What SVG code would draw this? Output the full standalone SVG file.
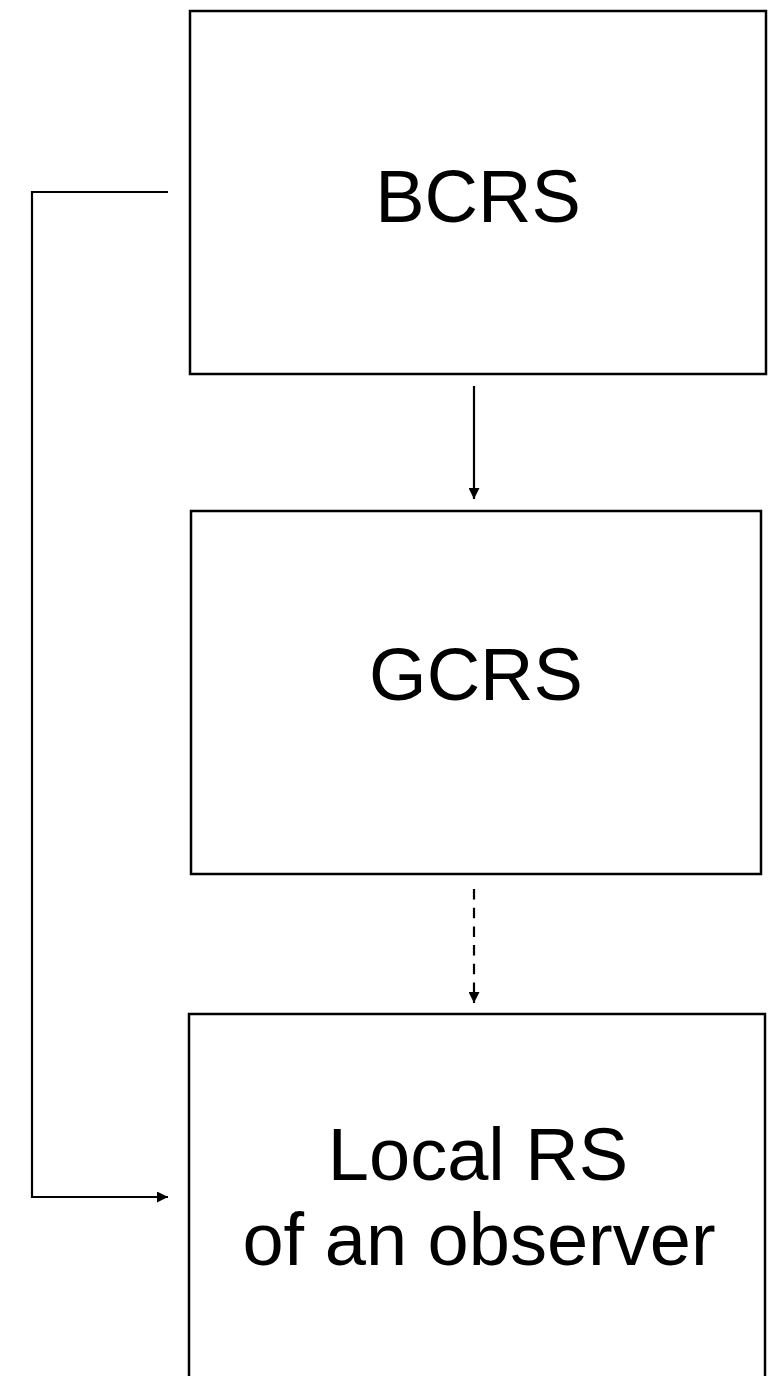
<svg xmlns="http://www.w3.org/2000/svg" width="769" height="1376" viewBox="0 0 769 1376">
  <style>
    .box { fill: #ffffff; stroke: #000000; stroke-width: 2.5; }
    .label { font-family: "Liberation Sans", Arial, sans-serif; font-size: 74px; fill: #000000; text-anchor: middle; }
    .link { fill: none; stroke: #000000; stroke-width: 2.2; }
    .dashed { stroke-dasharray: 10.5 8.2; }
  </style>
  <defs>
    <marker id="arrow" viewBox="0 0 10 10" refX="10" refY="5" markerWidth="11" markerHeight="11" markerUnits="userSpaceOnUse" orient="auto">
      <path d="M0,0 L10,5 L0,10 Z" fill="#000000"/>
    </marker>
  </defs>
  <rect width="769" height="1376" fill="#ffffff"/>

  <!-- reference systems -->
  <g id="bcrs">
    <rect class="box" x="190" y="11" width="576" height="363"/>
    <text class="label" x="478" y="222">BCRS</text>
  </g>
  <g id="gcrs">
    <rect class="box" x="191" y="511" width="570" height="363"/>
    <text class="label" x="476" y="700">GCRS</text>
  </g>
  <g id="local-rs">
    <rect class="box" x="189" y="1014" width="576" height="380"/>
    <text class="label" x="478" y="1180">Local RS</text>
    <text class="label" x="479" y="1265">of an observer</text>
  </g>

  <!-- transformations between systems -->
  <g id="connectors">
    <line class="link" x1="474" y1="386" x2="474" y2="499" marker-end="url(#arrow)"/>
    <line class="link dashed" x1="474" y1="889" x2="474" y2="1003" marker-end="url(#arrow)"/>
    <polyline class="link" points="168,192 32,192 32,1197 168,1197" marker-end="url(#arrow)"/>
  </g>
</svg>
